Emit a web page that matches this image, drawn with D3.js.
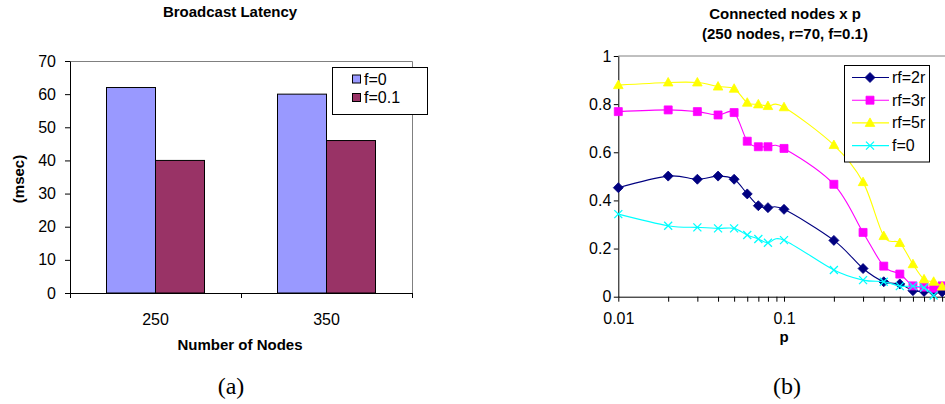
<!DOCTYPE html>
<html>
<head>
<meta charset="utf-8">
<script src="https://cdn.jsdelivr.net/npm/d3@7"></script>
<style>
  html, body { margin: 0; padding: 0; background: #fff; }
  svg { display: block; font-family: "Liberation Sans", Arial, sans-serif; }
</style>
</head>
<body>
<svg id="fig" width="945" height="404"></svg>
<script>
// ---- (a) Broadcast latency ----
const nodeCounts = ["250", "350"];
const latencySeries = ["f=0", "f=0.1"];
const latencyF0 = [62, 60];
const latencyF01 = [40, 46];
const latencyTicks = [0, 10, 20, 30, 40, 50, 60, 70];
const latencyColors = ["#9999FF", "#993366"];

// ---- (b) Connected nodes vs p ----
const pValues = [0.01, 0.02, 0.03, 0.04, 0.05, 0.06, 0.07, 0.08, 0.1, 0.2, 0.3, 0.4, 0.5, 0.6, 0.7, 0.8, 0.9];
const rf2r = [0.453, 0.501, 0.488, 0.501, 0.488, 0.427, 0.378, 0.370, 0.363, 0.234, 0.117, 0.062, 0.053, 0.025, 0.022, 0.020, 0.020];
const rf3r = [0.769, 0.776, 0.769, 0.755, 0.765, 0.646, 0.623, 0.623, 0.616, 0.467, 0.267, 0.127, 0.094, 0.045, 0.040, 0.035, 0.045];
const rf5r = [0.879, 0.890, 0.890, 0.873, 0.864, 0.806, 0.799, 0.792, 0.787, 0.630, 0.476, 0.252, 0.223, 0.135, 0.072, 0.062, 0.042];
const f0 = [0.343, 0.295, 0.288, 0.284, 0.284, 0.256, 0.240, 0.224, 0.235, 0.111, 0.069, 0.062, 0.044, 0.044, 0.037, 0.005];
const connTicks = [0, 0.2, 0.4, 0.6, 0.8, 1];
const connTickLabels = ["0", "0.2", "0.4", "0.6", "0.8", "1"];
const pMajor = [0.01, 0.1];
const pMajorLabels = ["0.01", "0.1"];
const pMinor = [0.02, 0.03, 0.04, 0.05, 0.06, 0.07, 0.08, 0.09, 0.2, 0.3, 0.4, 0.5, 0.6, 0.7, 0.8, 0.9];

const svg = d3.select("#fig");
svg.append("rect").attr("width", 945).attr("height", 404).attr("fill", "#fff");

// ================= Chart (a) =================
const A = { left: 70, right: 412, top: 61, bottom: 293 };
const gA = svg.append("g");

const x0 = d3.scaleBand().domain(nodeCounts).range([A.left, A.right]);
const x1 = d3.scaleBand().domain(latencySeries).range([0, x0.bandwidth()]).paddingInner(0).paddingOuter(0.745);
const yA = d3.scaleLinear().domain([0, 70]).range([A.bottom, A.top]);

// plot-area border (top and right)
gA.append("path")
  .attr("d", `M${A.left},${A.top + 0.5}H${A.right + 0.5}V${A.bottom}`)
  .attr("fill", "none").attr("stroke", "#808080").attr("stroke-width", 1);

const latencyRows = nodeCounts.map((c, i) => ({ cat: c, vals: [latencyF0[i], latencyF01[i]] }));
gA.selectAll("g.grp").data(latencyRows).join("g")
  .attr("class", "grp")
  .attr("transform", d => `translate(${x0(d.cat)},0)`)
  .selectAll("rect").data(d => d.vals.map((v, j) => ({ s: latencySeries[j], v, j })))
  .join("rect")
  .attr("x", d => x1(d.s))
  .attr("y", d => yA(d.v))
  .attr("width", x1.bandwidth())
  .attr("height", d => yA(0) - yA(d.v))
  .attr("fill", d => latencyColors[d.j])
  .attr("stroke", "#000").attr("stroke-width", 1);

// y axis
const axA = gA.append("g").attr("transform", `translate(${A.left},0)`)
  .call(d3.axisLeft(yA).tickValues(latencyTicks).tickSize(5).tickSizeOuter(0).tickPadding(9));
axA.selectAll("text").attr("font-size", 16).attr("font-family", "Liberation Sans, Arial, sans-serif").attr("fill", "#000");
axA.selectAll("line,path").attr("stroke", "#000");

// x axis: labels centred on the bands, ticks on the band boundaries
const axAx = gA.append("g").attr("transform", `translate(0,${A.bottom})`)
  .call(d3.axisBottom(x0).tickSize(0).tickSizeOuter(0).tickPadding(20.5));
axAx.selectAll("text").attr("font-size", 16).attr("font-family", "Liberation Sans, Arial, sans-serif").attr("fill", "#000");
axAx.select("path").attr("stroke", "#000");
const bounds = [x0(nodeCounts[0])].concat(nodeCounts.map(c => x0(c) + x0.bandwidth()));
axAx.selectAll("line.bt").data(bounds).join("line").attr("class", "bt")
  .attr("x1", d => d + 0.5).attr("x2", d => d + 0.5).attr("y1", 0).attr("y2", 5)
  .attr("stroke", "#000");

// titles
gA.append("text").attr("x", 230).attr("y", 17).attr("text-anchor", "middle")
  .attr("font-size", 15).attr("font-weight", "bold").text("Broadcast Latency");
gA.append("text").attr("x", 240).attr("y", 350).attr("text-anchor", "middle")
  .attr("font-size", 15).attr("font-weight", "bold").text("Number of Nodes");
gA.append("text").attr("transform", "translate(24,179) rotate(-90)").attr("text-anchor", "middle")
  .attr("font-size", 15).attr("font-weight", "bold").text("(msec)");
gA.append("text").attr("x", 231).attr("y", 394).attr("text-anchor", "middle")
  .attr("font-family", "Liberation Serif, 'Times New Roman', serif").attr("font-size", 24).text("(a)");

// legend
const legA = gA.append("g");
legA.append("rect").attr("x", 332.5).attr("y", 67.5).attr("width", 95).attr("height", 47)
  .attr("fill", "#fff").attr("stroke", "#000");
latencySeries.forEach((s, j) => {
  const cy = 79 + j * 18.5;
  legA.append("rect").attr("x", 352.5).attr("y", cy - 4).attr("width", 8).attr("height", 8)
    .attr("fill", latencyColors[j]).attr("stroke", "#000");
  legA.append("text").attr("x", 364).attr("y", cy + 5.5).attr("font-size", 16).text(s);
});

// ================= Chart (b) =================
const B = { left: 618.3, top: 56, bottom: 296.7 };
const gB = svg.append("g");
const xB = d3.scaleLog().domain([0.01, 1]).range([B.left, 949.7]);
const yB = d3.scaleLinear().domain([0, 1]).range([B.bottom, B.top]);

gB.append("line").attr("x1", B.left).attr("x2", 945).attr("y1", B.top).attr("y2", B.top)
  .attr("stroke", "#808080");

// y axis
const axB = gB.append("g").attr("transform", `translate(${B.left},0)`)
  .call(d3.axisLeft(yB).tickValues(connTicks).tickFormat((d, i) => connTickLabels[i])
    .tickSize(4.5).tickSizeOuter(0).tickPadding(2.5));
axB.selectAll("text").attr("font-size", 16).attr("font-family", "Liberation Sans, Arial, sans-serif").attr("fill", "#000");
axB.selectAll("line,path").attr("stroke", "#000");

// x axis (log)
const allP = pMajor.concat(pMinor).sort((a, b) => a - b);
const axBx = gB.append("g").attr("transform", `translate(0,${B.bottom})`)
  .call(d3.axisBottom(xB).tickValues(allP)
    .tickFormat(d => { const k = pMajor.indexOf(d); return k >= 0 ? pMajorLabels[k] : ""; })
    .tickSize(5).tickSizeOuter(0).tickPadding(11));
axBx.selectAll("text").attr("font-size", 16).attr("font-family", "Liberation Sans, Arial, sans-serif").attr("fill", "#000");
axBx.selectAll("line,path").attr("stroke", "#000");

gB.append("text").attr("x", 785).attr("y", 18.5).attr("text-anchor", "middle")
  .attr("font-size", 15).attr("font-weight", "bold").text("Connected nodes x p");
gB.append("text").attr("x", 785).attr("y", 38.5).attr("text-anchor", "middle")
  .attr("font-size", 15).attr("font-weight", "bold").text("(250 nodes, r=70, f=0.1)");
gB.append("text").attr("x", 784).attr("y", 342).attr("text-anchor", "middle")
  .attr("font-size", 15).attr("font-weight", "bold").text("p");
gB.append("text").attr("x", 787).attr("y", 394).attr("text-anchor", "middle")
  .attr("font-family", "Liberation Serif, 'Times New Roman', serif").attr("font-size", 24).text("(b)");

// marker shapes
const markerPaths = {
  diamond: "M0,-5L5,0L0,5L-5,0Z",
  square: "M-4,-4H4V4H-4Z",
  triangle: "M0,-5L4.8,3.5H-4.8Z",
  cross: "M-4,-4L4,4M-4,4L4,-4"
};

const connSeries = [
  { name: "rf=2r", vals: rf2r, color: "#000080", marker: "diamond" },
  { name: "rf=3r", vals: rf3r, color: "#FF00FF", marker: "square" },
  { name: "rf=5r", vals: rf5r, color: "#FFFF00", marker: "triangle" },
  { name: "f=0", vals: f0, color: "#00FFFF", marker: "cross" }
];

const line = d3.line().x(d => xB(d.p)).y(d => yB(d.v)).curve(d3.curveCardinal.tension(0));

function drawMarker(g, m, color, x, y) {
  const p = g.append("path").attr("d", markerPaths[m]).attr("transform", `translate(${x},${y})`);
  if (m === "cross") p.attr("fill", "none").attr("stroke", color).attr("stroke-width", 1.3);
  else p.attr("fill", color).attr("stroke", color).attr("stroke-width", 0.8);
}

connSeries.forEach(s => {
  const pts = s.vals.map((v, i) => ({ p: pValues[i], v }));
  const g = gB.append("g");
  g.append("path").attr("d", line(pts)).attr("fill", "none").attr("stroke", s.color).attr("stroke-width", 1.1);
  pts.forEach(d => drawMarker(g, s.marker, s.color, xB(d.p), yB(d.v)));
});

// legend
const legB = gB.append("g");
legB.append("rect").attr("x", 844.5).attr("y", 65.5).attr("width", 85).attr("height", 96.5)
  .attr("fill", "#fff").attr("stroke", "#000");
connSeries.forEach((s, j) => {
  const cy = 77.5 + j * 22.7;
  legB.append("line").attr("x1", 852).attr("x2", 889).attr("y1", cy).attr("y2", cy)
    .attr("stroke", s.color).attr("stroke-width", 1.1);
  drawMarker(legB, s.marker, s.color, 870, cy);
  legB.append("text").attr("x", 892).attr("y", cy + 5.5).attr("font-size", 16).text(s.name);
});
</script>
</body>
</html>
